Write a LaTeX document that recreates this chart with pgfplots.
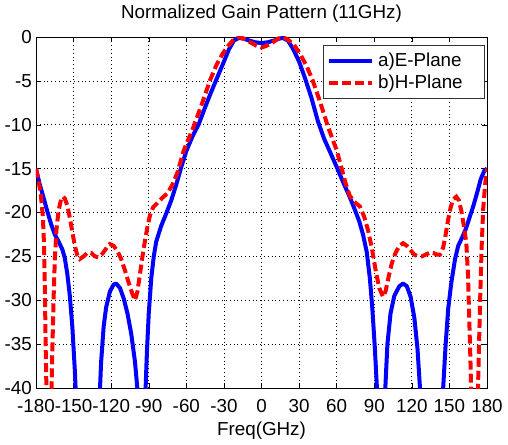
\documentclass[border=0pt]{standalone}
\usepackage{fontspec}
\setmainfont{Liberation Sans}
\usepackage{pgfplots}
\pgfplotsset{compat=1.18}
\begin{document}
\begin{tikzpicture}[font=\fontsize{18.8bp}{22bp}\selectfont]
\begin{axis}[name=ax, scale only axis, width=451bp, height=351bp,
  xmin=-180, xmax=180, ymin=-40, ymax=0,
  xtick={-180,-150,...,180},
  xticklabels={-180,-150,-120,-90,-60,-30,0,30,60,90,120,150,180},
  ytick={-40,-35,...,0},
  yticklabels={-40,-35,-30,-25,-20,-15,-10,-5,0},
  tick align=inside, major tick length=5bp,
  tick style={black, line width=0.5bp},
  grid=major, grid style={black, line width=0.7bp, dash pattern=on 0.8bp off 3bp},
  axis line style={black, line width=0.6bp},
  xticklabel style={anchor=base, yshift=-24bp, inner sep=0pt},
  yticklabel style={anchor=east, inner sep=0pt, xshift=-4bp},
  title={Normalized Gain Pattern (11GHz)},
  title style={at={(0.5,1)}, anchor=base, yshift=13bp, inner sep=0pt},
  xlabel={Freq(GHz)},
  xlabel style={at={(0.5,0)}, anchor=base, yshift=-47bp, inner sep=0pt},
  legend style={at={(1,1)}, anchor=north east, xshift=-2bp, yshift=-8bp,
    draw=black!80, line width=0.7bp, inner xsep=4bp, inner ysep=4bp,
    nodes={inner sep=3.6bp, anchor=west}, fill=white},
  legend cell align=left,
  legend image code/.code={\draw[#1] (0bp,0bp) -- (43bp,0bp);},
]
\addplot[color=blue, line width=4bp, line join=round] coordinates {
(-180,-15) (-177,-16.8) (-174,-18.3) (-171.5,-19.6) (-168,-21.3) (-165,-22.5)
(-162,-23.3) (-159,-24.2) (-157,-25.2) (-155,-27) (-153,-29.5) (-151,-33)
(-149,-38) (-147.5,-43) (-146,-50)
(-131,-50) (-129.5,-42) (-128,-37) (-126,-33) (-124,-30.8) (-121,-29)
(-118,-28.2) (-116,-28.1) (-113,-28.6) (-110,-29.8) (-107,-31.5) (-104,-33.8)
(-101,-37) (-98.5,-41) (-96,-50) (-94.5,-50) (-93,-42) (-91.5,-36) (-90,-31.5)
(-88,-27.5) (-86,-25) (-84,-23.3) (-80,-21.5) (-76,-20.1) (-72,-18.6)
(-68,-16.8) (-64,-14.8) (-60,-13) (-55,-11.3) (-50,-9.9) (-45,-8) (-40,-6.2)
(-35,-4.5) (-30,-2.8) (-26,-1.4) (-22,-0.4) (-18,-0.1) (-14,-0.2) (-10,-0.4)
(-5,-0.6) (0,-0.7) (5,-0.6) (10,-0.4) (14,-0.2) (17,-0.1) (21,-0.4) (25,-1.3)
(30,-2.8) (35,-4.8) (40,-7) (45,-9.6) (50,-11.6) (55,-13.2) (60,-14.8)
(65,-16.5) (70,-18.1) (74,-19.5) (78,-21) (81,-22.5) (84,-24.5) (86.5,-27.5)
(88.5,-31) (90.5,-35.5) (92.5,-41) (94.5,-50) (96.5,-50) (98.5,-41)
(100.5,-35) (103,-31.5) (106,-29.5) (110,-28.4) (113,-28.1) (116,-28.4)
(119,-29.6) (122,-32) (124.5,-35.5) (126.5,-40) (128.5,-50)
(143,-50) (145,-40) (147,-35) (149,-31) (151.5,-28) (154.5,-25.3) (157,-23.8)
(160,-22.9) (163,-21.9) (166,-20.6) (169,-19.3) (172,-17.8) (175,-16.2)
(178,-15.2) (180,-15)
};
\addlegendentry{\makebox[99bp][l]{a)E-Plane}}
\addplot[color=red, line width=4bp, dash pattern=on 9bp off 4bp] coordinates {
(-180,-15) (-178,-16.3) (-176,-18.2) (-174.5,-20.5) (-173.5,-24) (-172.8,-30)
(-172.2,-36) (-171.3,-43) (-170,-55) (-168,-43) (-167,-36) (-166,-30)
(-165,-25.5) (-163.7,-22) (-162,-19.8) (-160,-18.5) (-158.5,-18.2)
(-157,-18.4) (-155,-19.2) (-153,-20.6) (-151,-22.2) (-149,-23.8) (-147,-24.9)
(-145,-25.3) (-142,-25) (-139,-24.6) (-136,-24.6) (-133,-25) (-130,-25.1)
(-127,-24.7) (-124,-24.1) (-121,-23.6) (-118,-23.8) (-115,-24.4) (-112,-25.3)
(-109,-26.6) (-106,-28) (-103,-29.3) (-101,-30) (-99,-29) (-97,-27) (-95,-25)
(-93,-23.2) (-91,-21.6) (-89,-20.3) (-86.5,-19.4) (-83,-18.9) (-79,-18.3)
(-75,-17.8) (-71,-16.8) (-67,-15.4) (-62,-12.9) (-55,-10.5) (-48,-7.8)
(-41,-4.9) (-36,-3.2) (-31,-1.9) (-26,-0.9) (-22,-0.25) (-18,0) (-14,-0.2)
(-9,-0.6) (-4,-1.0) (0,-1.2) (4,-1.0) (9,-0.6) (13,-0.2) (17,0) (21,-0.3)
(26,-0.9) (31,-2) (36,-3.3) (41,-5) (47,-7.5) (53,-10.2) (60,-12.9) (64,-15)
(67,-16.6) (70.5,-18.1) (74,-18.8) (78.5,-19.3) (82,-20.5) (85,-22) (88,-24)
(91,-26.5) (94,-28.6) (97,-29.6) (99,-29) (101.5,-27.3) (104,-25.8)
(107,-24.6) (110,-23.8) (113,-23.5) (116,-23.8) (119,-24.3) (122,-24.8)
(125,-25) (128,-25) (131,-24.8) (134,-24.6) (137,-24.6) (140,-24.8)
(142.5,-24.8) (145,-24) (147,-22.5) (149,-20.8) (151,-19.4) (153,-18.5)
(155.5,-18.2) (157.5,-18.6) (159.5,-19.8) (161.5,-21.5) (163.5,-23.5)
(164.8,-27) (165.8,-32) (166.8,-37) (168,-45) (170,-55) (172,-45)
(173.3,-37) (174.5,-30) (175.7,-24) (177,-19.5) (178.5,-16.8) (180,-15)
};
\addlegendentry{\makebox[99bp][l]{b)H-Plane}}
\end{axis}
\pgfresetboundingbox
\path[use as bounding box] ([shift={(-36bp,-56bp)}]ax.south west) rectangle ([shift={(21bp,37bp)}]ax.north east);
\end{tikzpicture}
\end{document}
